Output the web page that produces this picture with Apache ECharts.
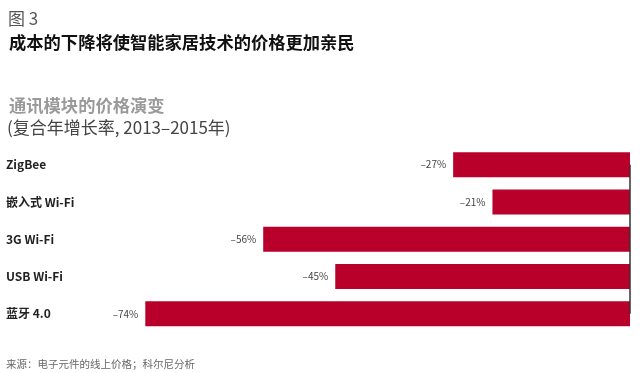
<!DOCTYPE html>
<html>
<head>
<meta charset="utf-8">
<script src="https://cdn.jsdelivr.net/npm/echarts@6/dist/echarts.min.js"></script>
<style>
html,body{margin:0;padding:0;background:#fff;}
#chart{width:640px;height:373px;}
</style>
</head>
<body>
<div id="chart"></div>
<script>
const categories = ['ZigBee', '嵌入式 Wi-Fi', '3G Wi-Fi', 'USB Wi-Fi', '蓝牙 4.0'];
const values = [-27, -21, -56, -45, -74];
const figLabel = '图 3';
const mainTitle = '成本的下降将使智能家居技术的价格更加亲民';
const subTitle = '通讯模块的价格演变';
const subTitle2 = '(复合年增长率, 2013–2015年)';
const sourceNote = '来源：电子元件的线上价格；科尔尼分析';

const FONT = '"Noto Sans CJK SC", "Noto Sans", sans-serif';
const chart = echarts.init(document.getElementById('chart'), null, {renderer: 'canvas'});
chart.setOption({
  animation: false,
  backgroundColor: '#ffffff',
  textStyle: {fontFamily: FONT},
  title: [
    {text: figLabel, left: 3, top: 5, textStyle: {fontSize: 17, fontWeight: 'normal', color: '#555', fontFamily: FONT}},
    {text: mainTitle, left: 4, top: 29, textStyle: {fontSize: 17.3, fontWeight: 'bold', color: '#111', fontFamily: FONT}},
    {text: subTitle, left: 4, top: 92, textStyle: {fontSize: 17.3, fontWeight: 'bold', color: '#9a9a9a', fontFamily: FONT}},
    {text: subTitle2, left: 2, top: 114, textStyle: {fontSize: 17, fontWeight: 'normal', color: '#444', fontFamily: FONT}},
    {text: sourceNote, left: 1, top: 354, textStyle: {fontSize: 10.5, fontWeight: 'normal', color: '#666', fontFamily: FONT}}
  ],
  grid: {left: 106, right: 10, top: 146, bottom: 40.5, containLabel: false},
  xAxis: {type: 'value', min: -80, max: 0, show: false},
  yAxis: {
    type: 'category',
    inverse: true,
    data: categories,
    axisLine: {show: false},
    axisTick: {show: false},
    splitLine: {show: false},
    axisLabel: {
      align: 'left',
      margin: 100,
      fontSize: 12,
      fontWeight: 'bold',
      color: '#222',
      fontFamily: FONT
    }
  },
  series: [{
    type: 'bar',
    data: values,
    barWidth: 25,
    itemStyle: {color: '#B8002B'},
    label: {
      show: true,
      position: 'left',
      distance: 7,
      fontSize: 10,
      color: '#444',
      fontFamily: FONT,
      formatter: p => '–' + Math.abs(p.value) + '%'
    },
    markLine: {
      silent: true,
      symbol: 'none',
      label: {show: false},
      lineStyle: {color: '#333', width: 1.5, type: 'solid'},
      data: [[{coord: [0, -0.335]}, {coord: [0, 4.335]}]]
    }
  }]
});
</script>
</body>
</html>
